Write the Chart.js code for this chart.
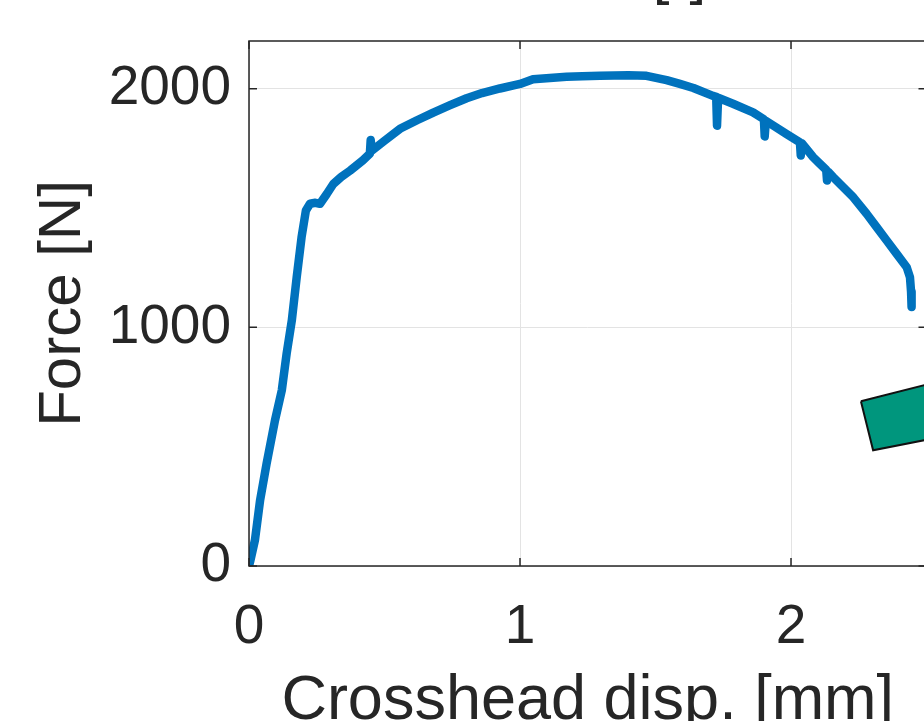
<!DOCTYPE html>
<html>
<head>
<meta charset="utf-8">
<script src="https://cdn.jsdelivr.net/npm/chart.js@4/dist/chart.umd.min.js"></script>
<style>
    html, body { margin: 0; padding: 0; background: #fff; overflow: hidden; }
    #wrap { position: absolute; left: 0; top: -60px; width: 1186px; height: 800px; }
</style>
</head>
<body>
<div id="wrap"><canvas id="forceChart" width="1186" height="800"></canvas></div>
<script>
// crosshead displacement [mm] and force [N]
const dispMm = [
    0.000, 0.004, 0.022, 0.041, 0.065, 0.096, 0.121, 0.139, 0.158, 0.176,
    0.194, 0.210, 0.225, 0.245, 0.262, 0.287, 0.311, 0.340, 0.373, 0.420,
    0.446, 0.449, 0.453, 0.500, 0.557, 0.620, 0.680, 0.740, 0.803, 0.860,
    0.926, 1.000, 1.048, 1.110, 1.172, 1.230, 1.295, 1.400, 1.467, 1.541,
    1.590, 1.640, 1.712, 1.724, 1.727, 1.731, 1.786, 1.860, 1.900, 1.903,
    1.907, 1.984, 2.033, 2.036, 2.040, 2.082, 2.107, 2.130, 2.133, 2.137,
    2.156, 2.193, 2.230, 2.279, 2.316, 2.353, 2.390, 2.427, 2.439, 2.443,
    2.445
];
const forceN = [
    0, 18, 109, 276, 430, 611, 736, 891, 1029, 1210,
    1378, 1490, 1518, 1522, 1518, 1559, 1601, 1630, 1657, 1700,
    1728, 1785, 1740, 1782, 1832, 1868, 1900, 1930, 1960, 1982,
    2001, 2020, 2040, 2045, 2050, 2052, 2054, 2056, 2054, 2036,
    2020, 2003, 1970, 1966, 1845, 1962, 1937, 1901, 1872, 1800,
    1866, 1810, 1775, 1720, 1772, 1713, 1685, 1660, 1615, 1652,
    1629, 1587, 1545, 1476, 1420, 1364, 1308, 1252, 1210, 1150,
    1085
];

// teal specimen marker in the lower right corner (data units)
const markerX = [2.258, 2.303, 2.500, 2.500, 2.258];
const markerY = [690, 485, 529, 760, 690];

const xTicks = [0, 1, 2];
const yTicks = [0, 1000, 2000];
const titleText = 'Strain [-]';

const axisColor = '#262626';
const fontFamily = '"Liberation Sans", Arial, Helvetica, sans-serif';

Chart.defaults.font.family = fontFamily;
Chart.defaults.color = axisColor;

// MATLAB style box with inward tick marks on all four sides
const boxPlugin = {
    id: 'boxAxes',
    afterDatasetsDraw(chart) {
        const { ctx, chartArea: a, scales: { x, y } } = chart;
        const len = 8;
        ctx.save();
        ctx.strokeStyle = axisColor;
        ctx.lineWidth = 1.5;
        ctx.strokeRect(a.left, a.top, a.right - a.left, a.bottom - a.top);
        ctx.beginPath();
        xTicks.forEach(v => {
            const px = x.getPixelForValue(v);
            ctx.moveTo(px, a.bottom); ctx.lineTo(px, a.bottom - len);
            ctx.moveTo(px, a.top); ctx.lineTo(px, a.top + len);
        });
        yTicks.forEach(v => {
            const py = y.getPixelForValue(v);
            ctx.moveTo(a.left, py); ctx.lineTo(a.left + len, py);
            ctx.moveTo(a.right, py); ctx.lineTo(a.right - len, py);
        });
        ctx.stroke();
        ctx.restore();
    }
};

// axes title, centred over the plot box (the built-in one centres on the canvas)
const axesTitlePlugin = {
    id: 'axesTitle',
    afterDraw(chart) {
        const { ctx, chartArea: a } = chart;
        ctx.save();
        ctx.font = `60px ${fontFamily}`;
        ctx.fillStyle = axisColor;
        ctx.textAlign = 'center';
        ctx.textBaseline = 'alphabetic';
        ctx.fillText(titleText, (a.left + a.right) / 2 + 5, a.top - 48.5);
        ctx.restore();
    }
};

new Chart(document.getElementById('forceChart'), {
    type: 'scatter',
    data: {
        datasets: [
            {
                data: markerX.map((v, i) => ({ x: v, y: markerY[i] })),
                showLine: true,
                fill: 'shape',
                backgroundColor: '#00967d',
                borderColor: '#111',
                borderWidth: 2,
                pointRadius: 0,
                tension: 0
            },
            {
                data: dispMm.map((v, i) => ({ x: v, y: forceN[i] })),
                showLine: true,
                borderColor: '#0072BD',
                borderWidth: 8.5,
                borderJoinStyle: 'round',
                borderCapStyle: 'round',
                pointRadius: 0,
                tension: 0
            }
        ]
    },
    options: {
        responsive: false,
        animation: false,
        layout: { padding: { left: 0, top: 101, right: 259.5, bottom: 6.5 } },
        plugins: {
            legend: { display: false },
            tooltip: { enabled: false },
            title: { display: false }
        },
        scales: {
            x: {
                type: 'linear',
                min: 0,
                max: 2.5,
                afterBuildTicks: s => { s.ticks = xTicks.map(v => ({ value: v })); },
                afterFit: s => { s.height = 167.5; },
                ticks: {
                    padding: 34,
                    maxRotation: 0,
                    autoSkip: false,
                    color: axisColor,
                    font: { size: 55, lineHeight: 1 },
                    callback: v => String(v)
                },
                grid: { color: '#e3e3e3', lineWidth: 1, drawTicks: false },
                border: { display: false },
                title: {
                    display: true,
                    text: 'Crosshead disp. [mm]',
                    color: axisColor,
                    font: { size: 63, lineHeight: 1 },
                    padding: { top: 0, bottom: 0 }
                }
            },
            y: {
                type: 'linear',
                min: 0,
                max: 2200,
                afterBuildTicks: s => { s.ticks = yTicks.map(v => ({ value: v })); },
                afterFit: s => { s.width = 249; },
                ticks: {
                    padding: 18,
                    color: axisColor,
                    font: { size: 55, lineHeight: 1 },
                    callback: v => String(v)
                },
                grid: { color: '#e3e3e3', lineWidth: 1, drawTicks: false },
                border: { display: false },
                title: {
                    display: true,
                    text: 'Force [N]',
                    color: axisColor,
                    font: { size: 60, lineHeight: 1 },
                    padding: { top: 33, bottom: 0 }
                }
            }
        }
    },
    plugins: [boxPlugin, axesTitlePlugin]
});
</script>
</body>
</html>
